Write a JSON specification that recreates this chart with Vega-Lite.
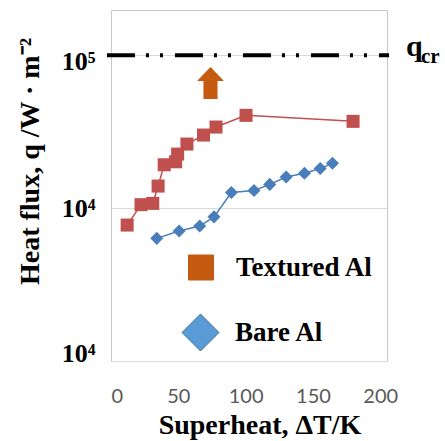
{
  "$schema": "https://vega.github.io/schema/vega-lite/v6.json",
  "width": 276,
  "height": 351,
  "autosize": {"type": "none"},
  "padding": {"left": 111, "top": 10, "right": 58, "bottom": 80},
  "background": "white",
  "config": {
    "view": {"stroke": "#c8c8c8", "strokeWidth": 1},
    "axis": {"domain": false, "ticks": false, "tickSize": 0},
    "legend": {
      "title": null, "orient": "none", "padding": 0,
      "labelFont": "Liberation Serif", "labelFontWeight": "bold", "labelFontSize": 27,
      "labelColor": "black", "symbolOpacity": 1, "symbolStrokeWidth": 1
    }
  },
  "resolve": {"scale": {"opacity": "independent"}, "legend": {"opacity": "independent"}},
  "datasets": {
    "series": [
      {"s": "Textured Al", "dT": 12, "q": 7753},
      {"s": "Textured Al", "dT": 22.3, "q": 10540},
      {"s": "Textured Al", "dT": 31, "q": 10750},
      {"s": "Textured Al", "dT": 35, "q": 13950},
      {"s": "Textured Al", "dT": 39.5, "q": 19230},
      {"s": "Textured Al", "dT": 48, "q": 20120},
      {"s": "Textured Al", "dT": 49.5, "q": 22590},
      {"s": "Textured Al", "dT": 56.4, "q": 26270},
      {"s": "Textured Al", "dT": 68.7, "q": 30090},
      {"s": "Textured Al", "dT": 78, "q": 33950},
      {"s": "Textured Al", "dT": 100.3, "q": 40490},
      {"s": "Textured Al", "dT": 179.8, "q": 36990},
      {"s": "Bare Al", "dT": 34, "q": 6344},
      {"s": "Bare Al", "dT": 50.6, "q": 7083},
      {"s": "Bare Al", "dT": 65.9, "q": 7637},
      {"s": "Bare Al", "dT": 76.5, "q": 8772},
      {"s": "Bare Al", "dT": 89.4, "q": 12650},
      {"s": "Bare Al", "dT": 106.2, "q": 13040},
      {"s": "Bare Al", "dT": 117.9, "q": 14310},
      {"s": "Bare Al", "dT": 130.1, "q": 15980},
      {"s": "Bare Al", "dT": 143.7, "q": 16920},
      {"s": "Bare Al", "dT": 155.4, "q": 18160},
      {"s": "Bare Al", "dT": 164.5, "q": 19650}
    ],
    "arrow": [{"dT": 73.9, "q": 65880}],
    "critical": [{"dT0": -3, "dT1": 206.5, "q": 100000}]
  },
  "layer": [
    {
      "data": {"name": "series"},
      "mark": {"type": "line", "strokeWidth": 1.5},
      "encoding": {
        "x": {
          "field": "dT", "type": "quantitative",
          "scale": {"domain": [0, 205], "nice": false, "zero": false},
          "axis": {
            "values": [0, 50, 100, 150, 200],
            "grid": false,
            "labelFont": "Lato", "labelFontSize": 20, "labelColor": "#595959",
            "labelPadding": 25,
            "title": "Superheat, ΔT/K",
            "titleFont": "Liberation Serif", "titleFontWeight": "bold", "titleFontSize": 28,
            "titleColor": "black",
            "titleX": 148.5, "titleY": 72, "titleAlign": "center", "titleBaseline": "alphabetic"
          }
        },
        "y": {
          "field": "q", "type": "quantitative",
          "scale": {"type": "log", "domain": [1000, 198000], "nice": false},
          "axis": {
            "values": [1000, 10000, 100000],
            "labelExpr": "datum.value >= 100000 ? '10⁵' : '10⁴'",
            "grid": true, "gridColor": "#d9d9d9", "gridWidth": 1,
            "labelFont": "Liberation Serif", "labelFontWeight": "bold", "labelFontSize": 26,
            "labelColor": "black", "labelPadding": 16,
            "labelBaseline": {"condition": {"test": "datum.value < 2000", "value": "alphabetic"}, "value": "middle"},
            "labelOffset": {"condition": {"test": "datum.value > 50000", "value": 6}, "value": 0},
            "title": "Heat flux, q /W · m⁻²",
            "titleFont": "Liberation Serif", "titleFontWeight": "bold", "titleFontSize": 28,
            "titleColor": "black", "titleAngle": 270,
            "titleX": -73, "titleY": 151, "titleAlign": "center", "titleBaseline": "alphabetic"
          }
        },
        "color": {
          "field": "s", "type": "nominal",
          "scale": {"domain": ["Textured Al", "Bare Al"], "range": ["#c0504d", "#4a7ebb"]},
          "legend": null
        }
      }
    },
    {
      "data": {"name": "series"},
      "transform": [{"filter": "datum.s === 'Textured Al'"}],
      "mark": {"type": "point", "filled": true, "shape": "square", "size": 170},
      "encoding": {
        "x": {"field": "dT", "type": "quantitative"},
        "y": {"field": "q", "type": "quantitative"},
        "color": {"field": "s", "type": "nominal", "legend": null},
        "opacity": {
          "field": "s", "type": "ordinal",
          "scale": {"domain": ["Textured Al"], "range": [1, 1]},
          "legend": {
            "legendX": 76.5, "legendY": 244,
            "symbolType": "square", "symbolSize": 625,
            "symbolFillColor": "#c55a11", "symbolStrokeColor": "#c55a11",
            "labelOffset": 21.5
          }
        }
      }
    },
    {
      "data": {"name": "series"},
      "transform": [{"filter": "datum.s === 'Bare Al'"}],
      "mark": {"type": "point", "filled": true, "shape": "diamond", "size": 170},
      "encoding": {
        "x": {"field": "dT", "type": "quantitative"},
        "y": {"field": "q", "type": "quantitative"},
        "color": {"field": "s", "type": "nominal", "legend": null},
        "opacity": {
          "field": "s", "type": "ordinal",
          "scale": {"domain": ["Bare Al"], "range": [1, 1]},
          "legend": {
            "legendX": 70.5, "legendY": 303.5,
            "symbolType": "diamond", "symbolSize": 1369,
            "symbolFillColor": "#5b9bd5", "symbolStrokeColor": "#41719c",
            "labelOffset": 15.5
          }
        }
      }
    },
    {
      "data": {"name": "critical"},
      "mark": {"type": "rule", "color": "black", "strokeWidth": 4, "strokeDash": [28, 11, 3, 11, 3, 12]},
      "encoding": {
        "x": {"field": "dT0", "type": "quantitative"},
        "x2": {"field": "dT1"},
        "y": {"field": "q", "type": "quantitative"}
      }
    },
    {
      "data": {"name": "critical"},
      "mark": {"type": "text", "text": "q", "font": "Liberation Serif", "fontWeight": "bold", "fontSize": 30, "color": "black", "align": "left", "baseline": "alphabetic", "dx": 17, "dy": 0.7},
      "encoding": {
        "x": {"field": "dT1", "type": "quantitative"},
        "y": {"field": "q", "type": "quantitative"}
      }
    },
    {
      "data": {"name": "critical"},
      "mark": {"type": "text", "text": "cr", "font": "Liberation Serif", "fontWeight": "bold", "fontSize": 21, "color": "black", "align": "left", "baseline": "alphabetic", "dx": 32, "dy": 7.7},
      "encoding": {
        "x": {"field": "dT1", "type": "quantitative"},
        "y": {"field": "q", "type": "quantitative"}
      }
    },
    {
      "data": {"name": "arrow"},
      "mark": {"type": "point", "filled": true, "opacity": 1, "color": "#c55a11", "size": 1024,
        "shape": "M0,-1L0.84,-0.125L0.44,-0.125L0.44,1L-0.44,1L-0.44,-0.125L-0.84,-0.125Z"},
      "encoding": {
        "x": {"field": "dT", "type": "quantitative"},
        "y": {"field": "q", "type": "quantitative"}
      }
    }
  ]
}
